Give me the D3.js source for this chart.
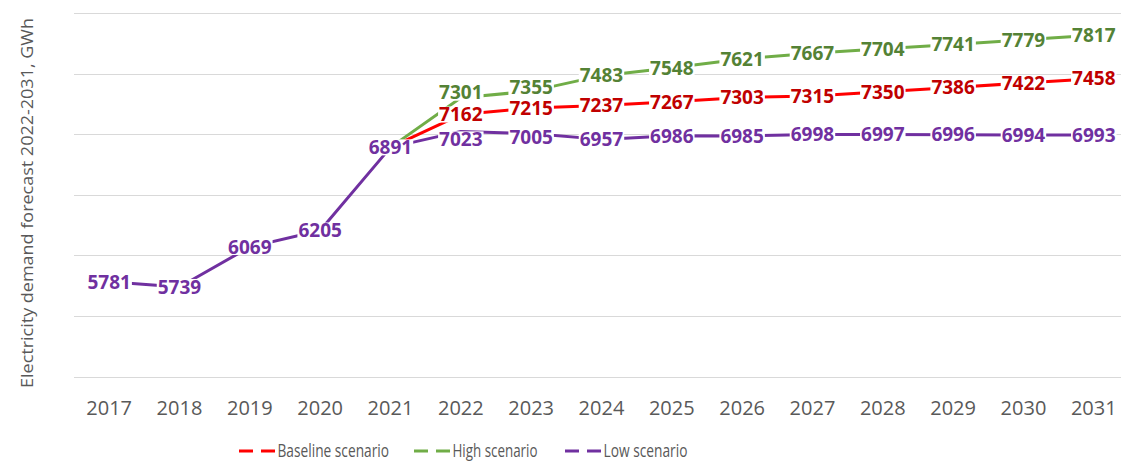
<!DOCTYPE html>
<html>
<head>
<meta charset="utf-8">
<script src="https://cdn.jsdelivr.net/npm/d3@7"></script>
<style>
  body { margin: 0; background: #fff; }
  svg { display: block; font-family: "Open Sans", sans-serif; }
</style>
</head>
<body>
<div id="chart-container"></div>
<script>
// Data
var years = [2017, 2018, 2019, 2020, 2021, 2022, 2023, 2024, 2025, 2026, 2027, 2028, 2029, 2030, 2031]
var baseline = [null, null, null, null, 6891, 7162, 7215, 7237, 7267, 7303, 7315, 7350, 7386, 7422, 7458]
var high = [null, null, null, null, 6891, 7301, 7355, 7483, 7548, 7621, 7667, 7704, 7741, 7779, 7817]
var low = [5781, 5739, 6069, 6205, 6891, 7023, 7005, 6957, 6986, 6985, 6998, 6997, 6996, 6994, 6993]
var yTicks = [5000, 5500, 6000, 6500, 7000, 7500, 8000]
var seriesNames = ['Baseline scenario', 'High scenario', 'Low scenario']

var WIDTH = 1121
var HEIGHT = 462
var margin = {top: 13, left: 74, bottom: 376.5}
var BAND = 70.33

var series = [
  {name: seriesNames[0], values: baseline, line: '#FF0000', label: '#C00000', firstLabel: 5},
  {name: seriesNames[1], values: high, line: '#70AD47', label: '#548235', firstLabel: 5},
  {name: seriesNames[2], values: low, line: '#7030A0', label: '#7030A0', firstLabel: 0}
]

// a few labels were dragged off their points in the original
var labelNudge = {
  'High scenario': {2022: -5, 2023: -4},
  'Low scenario': {2022: 8, 2023: 4}
}

var svg = d3.select('#chart-container')
  .append('svg')
  .attr('width', WIDTH)
  .attr('height', HEIGHT)

var xScale = d3.scaleBand()
  .domain(years)
  .range([margin.left, margin.left + BAND * years.length])

var yScale = d3.scaleLinear()
  .domain([5000, 8000])
  .range([margin.bottom, margin.top])

function xPos(year) { return xScale(year) + xScale.bandwidth() / 2 }

// gridlines
svg.append('g').attr('class', 'grid')
  .selectAll('line')
  .data(yTicks)
  .join('line')
    .attr('x1', margin.left)
    .attr('x2', WIDTH)
    .attr('y1', d => Math.round(yScale(d)) + 0.5)
    .attr('y2', d => Math.round(yScale(d)) + 0.5)
    .attr('stroke', '#D9D9D9')
    .attr('stroke-width', 1)

/* x axis */
var xAxis = svg.append('g')
  .attr('class', 'axis axis--x')
  .attr('transform', 'translate(0, ' + margin.bottom + ')')
  .call(d3.axisBottom(xScale).tickSize(0).tickPadding(0))
xAxis.select('.domain').remove()
xAxis.selectAll('text')
  .attr('y', 38.5)
  .attr('dy', 0)
  .attr('fill', '#595959')
  .style('font-size', '20px')
  .style('font-family', '"Open Sans", sans-serif')

/* y axis title */
svg.append('text')
  .attr('transform', 'translate(33, 203) rotate(-90)')
  .attr('text-anchor', 'middle')
  .attr('fill', '#595959')
  .style('font-size', '17px')
  .attr('textLength', 370)
  .attr('lengthAdjust', 'spacingAndGlyphs')
  .text('Electricity demand forecast 2022-2031, GWh')

// lines
var lineGenerator = d3.line()
  .defined(d => d.value != null)
  .x(d => xPos(d.year))
  .y(d => yScale(d.value))

function points(s) {
  return s.values.map((v, i) => ({year: years[i], value: v, index: i}))
}

svg.append('g').attr('class', 'lines')
  .selectAll('path')
  .data(series)
  .join('path')
    .attr('fill', 'none')
    .attr('stroke', d => d.line)
    .attr('stroke-width', 3)
    .attr('stroke-linejoin', 'round')
    .attr('d', d => lineGenerator(points(d)))

// data labels with white boxes
var labels = svg.append('g').attr('class', 'labels')
series.forEach(function(s) {
  points(s)
    .filter(p => p.value != null && p.index >= s.firstLabel)
    .forEach(function(p) {
      var nudge = (labelNudge[s.name] || {})[p.year] || 0
      var cx = xPos(p.year)
      var cy = yScale(p.value) + nudge
      var g = labels.append('g')
      var box = g.append('rect').attr('fill', '#fff')
      var t = g.append('text')
        .attr('x', cx)
        .attr('y', cy + 6.8)
        .attr('text-anchor', 'middle')
        .attr('fill', s.label)
        .style('font-size', '19px')
        .style('font-weight', 'bold')
        .text(p.value)
      var w = t.node().getComputedTextLength()
      box.attr('x', cx - w / 2 - 1)
        .attr('y', cy - 8)
        .attr('width', w + 2)
        .attr('height', 16)
    })
})

// legend
var legendX = [239, 414, 565]
var legendTextLen = [111.5, 85, 84]
var legend = svg.append('g').attr('class', 'legend')
series.forEach(function(s, i) {
  var g = legend.append('g').attr('transform', 'translate(' + legendX[i] + ', 451)')
  g.append('line')
    .attr('x1', 0).attr('x2', 37)
    .attr('stroke', s.line)
    .attr('stroke-width', 3)
    .attr('stroke-dasharray', '14 8')
  g.append('text')
    .attr('x', 38.5)
    .attr('y', 5.5)
    .attr('fill', '#595959')
    .style('font-size', '19px')
    .attr('textLength', legendTextLen[i])
    .attr('lengthAdjust', 'spacingAndGlyphs')
    .text(s.name)
})
</script>
</body>
</html>
